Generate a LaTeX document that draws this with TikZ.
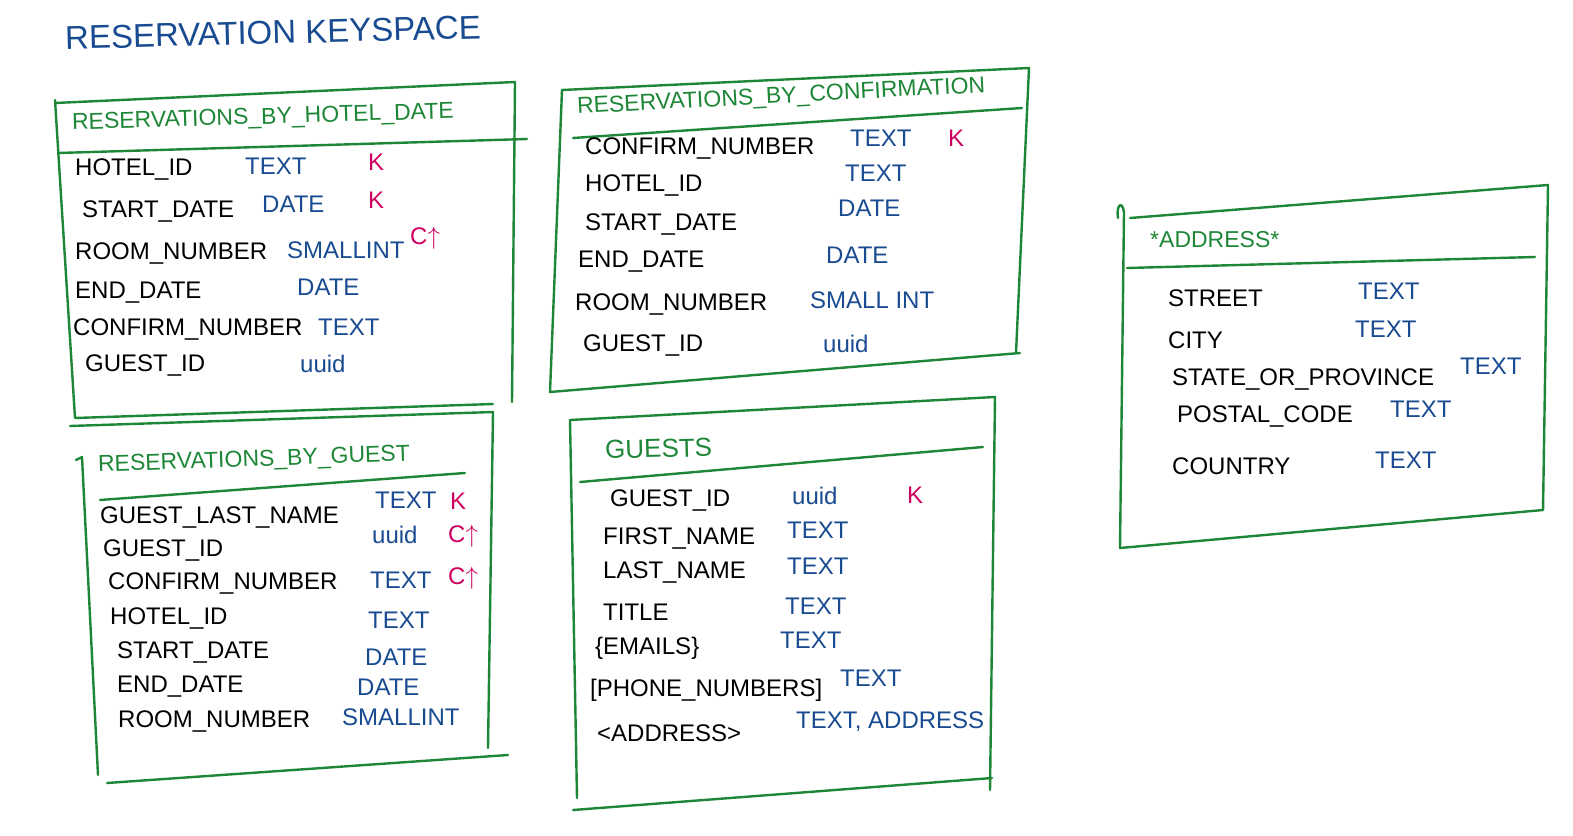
\documentclass[tikz,border=0pt]{standalone}
\usepackage{fontspec}
\setmainfont{Liberation Sans}
\begin{document}
\begin{tikzpicture}[x=1pt,y=-1pt,
  box/.style={draw=hgreen, line width=2.4pt, line cap=round, line join=round},
  fld/.style={anchor=west, inner sep=0pt, font=\fontsize{24}{24}\selectfont, text=black},
  typ/.style={anchor=west, inner sep=0pt, font=\fontsize{24}{24}\selectfont, text=hblue},
  key/.style={anchor=west, inner sep=0pt, font=\fontsize{24}{24}\selectfont, text=hpink},
  ttl/.style={anchor=west, inner sep=0pt, font=\fontsize{23}{23}\selectfont, text=hgreen},
]
\definecolor{hgreen}{RGB}{30,135,55}
\definecolor{hblue}{RGB}{25,75,145}
\definecolor{hpink}{RGB}{205,0,95}
\useasboundingbox[fill=white] (0,0) rectangle (1573,835);

% main title
\node[anchor=west, inner sep=0pt, font=\fontsize{33}{33}\selectfont, text=hblue, rotate=1.5] (maintitle) at (65,38) {RESERVATION KEYSPACE};

% ---------- box 1 ----------
\draw[box] (55,103) -- (515,82) -- (512,402);
\draw[box] (55,100) -- (75,418) -- (493,404);
\draw[box] (58,153) -- (527,139);
\node[ttl, rotate=1.7] (t1) at (72,124) {RESERVATIONS\_BY\_HOTEL\_DATE};
\node[fld] (a1) at (75,170) {HOTEL\_ID};
\node[typ] (a1t) at (245,166) {TEXT};
\node[key] (a1k) at (368,162) {K};
\node[fld] (a2) at (82,212) {START\_DATE};
\node[typ] (a2t) at (262,204) {DATE};
\node[key] (a2k) at (368,200) {K};
\node[fld] (a3) at (75,254) {ROOM\_NUMBER};
\node[typ] (a3t) at (287,250) {SMALLINT};
\node[key] (a3k) at (410,238) {C$\uparrow$};
\node[fld] (a4) at (75,293) {END\_DATE};
\node[typ] (a4t) at (297,287) {DATE};
\node[fld] (a5) at (73,330) {CONFIRM\_NUMBER};
\node[typ] (a5t) at (318,327) {TEXT};
\node[fld] (a6) at (85,366) {GUEST\_ID};
\node[typ] (a6t) at (300,364) {uuid};

% ---------- box 2 ----------
\draw[box] (562,90) -- (1029,68) -- (1016,353);
\draw[box] (562,90) -- (550,392) -- (1020,353);
\draw[box] (573,138) -- (1022,108);
\node[ttl, rotate=3] (t2) at (577,108) {RESERVATIONS\_BY\_CONFIRMATION};
\node[fld] (b1) at (585,149) {CONFIRM\_NUMBER};
\node[typ] (b1t) at (850,138) {TEXT};
\node[key] (b1k) at (948,138) {K};
\node[fld] (b2) at (585,186) {HOTEL\_ID};
\node[typ] (b2t) at (845,173) {TEXT};
\node[fld] (b3) at (585,225) {START\_DATE};
\node[typ] (b3t) at (838,208) {DATE};
\node[fld] (b4) at (578,262) {END\_DATE};
\node[typ] (b4t) at (826,255) {DATE};
\node[fld] (b5) at (575,305) {ROOM\_NUMBER};
\node[typ] (b5t) at (810,300) {SMALL INT};
\node[fld] (b6) at (583,346) {GUEST\_ID};
\node[typ] (b6t) at (823,344) {uuid};

% ---------- box 3 ----------
\draw[box] (70,426) -- (493,412) -- (488,748);
\draw[box] (76,460) -- (82,457) -- (98,775);
\draw[box] (107,783) -- (508,755);
\draw[box] (100,500) -- (465,473);
\node[ttl, rotate=2] (t3) at (98,466) {RESERVATIONS\_BY\_GUEST};
\node[fld] (c1) at (100,517) {GUEST\_LAST\_NAME};
\node[typ] (c1t) at (375,500) {TEXT};
\node[key] (c1k) at (450,501) {K};
\node[fld] (c2) at (103,550) {GUEST\_ID};
\node[typ] (c2t) at (372,535) {uuid};
\node[key] (c2k) at (448,536) {C$\uparrow$};
\node[fld] (c3) at (108,583) {CONFIRM\_NUMBER};
\node[typ] (c3t) at (370,580) {TEXT};
\node[key] (c3k) at (448,578) {C$\uparrow$};
\node[fld] (c4) at (110,618) {HOTEL\_ID};
\node[typ] (c4t) at (368,620) {TEXT};
\node[fld] (c5) at (117,652) {START\_DATE};
\node[typ] (c5t) at (365,657) {DATE};
\node[fld] (c6) at (117,687) {END\_DATE};
\node[typ] (c6t) at (357,687) {DATE};
\node[fld] (c7) at (118,721) {ROOM\_NUMBER};
\node[typ] (c7t) at (342,717) {SMALLINT};

% ---------- box 4 ----------
\draw[box] (570,420) -- (995,397) -- (990,790);
\draw[box] (570,420) -- (577,798);
\draw[box] (573,810) -- (992,778);
\draw[box] (580,482) -- (983,447);
\node[ttl, font=\fontsize{26}{26}\selectfont, rotate=1.5] (t4) at (605,450) {GUESTS};
\node[fld] (d1) at (610,500) {GUEST\_ID};
\node[typ] (d1t) at (792,496) {uuid};
\node[key] (d1k) at (907,495) {K};
\node[fld] (d2) at (603,538) {FIRST\_NAME};
\node[typ] (d2t) at (787,530) {TEXT};
\node[fld] (d3) at (603,572) {LAST\_NAME};
\node[typ] (d3t) at (787,566) {TEXT};
\node[fld] (d4) at (603,612) {TITLE};
\node[typ] (d4t) at (785,606) {TEXT};
\node[fld] (d5) at (595,648) {\{EMAILS\}};
\node[typ] (d5t) at (780,640) {TEXT};
\node[fld] (d6) at (590,690) {[PHONE\_NUMBERS]};
\node[typ] (d6t) at (840,678) {TEXT};
\node[fld] (d7) at (597,733) {<ADDRESS>};
\node[typ] (d7t) at (796,722) {TEXT, ADDRESS};

% ---------- box 5 ----------
\draw[box] (1118,218) .. controls (1116,205) and (1122,200) .. (1124,212) -- (1120,548) -- (1543,510) -- (1548,185) -- (1130,218);
\draw[box] (1127,268) -- (1535,257);
\node[ttl] (t5) at (1150,240) {*ADDRESS*};
\node[fld] (e1) at (1168,298) {STREET};
\node[typ] (e1t) at (1358,291) {TEXT};
\node[fld] (e2) at (1168,340) {CITY};
\node[typ] (e2t) at (1355,329) {TEXT};
\node[fld] (e3) at (1172,379) {STATE\_OR\_PROVINCE};
\node[typ] (e3t) at (1460,366) {TEXT};
\node[fld] (e4) at (1177,416) {POSTAL\_CODE};
\node[typ] (e4t) at (1390,409) {TEXT};
\node[fld] (e5) at (1172,466) {COUNTRY};
\node[typ] (e5t) at (1375,460) {TEXT};
\end{tikzpicture}
\end{document}
